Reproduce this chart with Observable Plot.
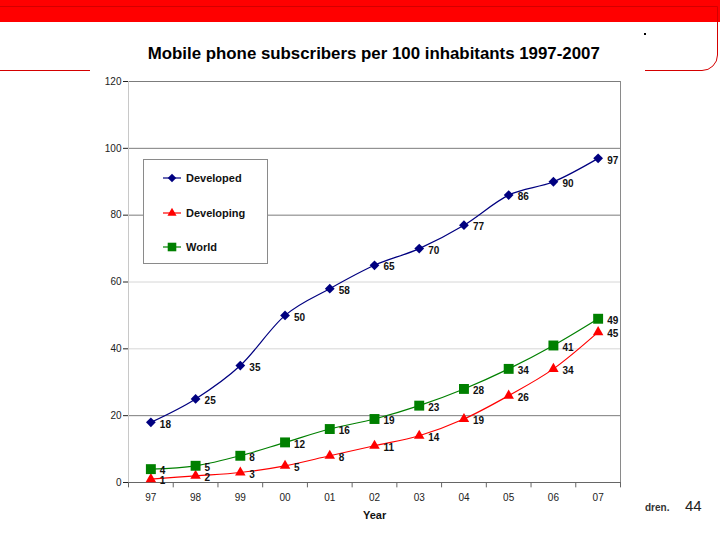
<!DOCTYPE html>
<html>
<head>
<meta charset="utf-8">
<script src="https://cdn.jsdelivr.net/npm/d3@7"></script>
<script src="https://cdn.jsdelivr.net/npm/@observablehq/plot@0.6"></script>
<style>
  html, body { margin: 0; padding: 0; background: #fff; }
  #page { position: relative; width: 720px; height: 540px; overflow: hidden; font-family: "Liberation Sans", Arial, sans-serif; }
  #band { position: absolute; left: 0; top: 0; width: 720px; height: 22px; background: #ff0000; }
  #outline { position: absolute; left: -20px; top: 6px; width: 736px; height: 63px; border: 1.5px solid #d40000; border-radius: 0 0 16px 0; }
  #sheet { position: absolute; left: 90px; top: 28px; width: 555px; height: 502px; background: #fff; }
  #dot { position: absolute; left: 644px; top: 33px; width: 2px; height: 1.5px; background: #000; }
  #title { position: absolute; left: 0; top: 45px; width: 748px; text-align: center; font-weight: bold; font-size: 16px; color: #000; white-space: nowrap; }
  #title span { display: inline-block; transform-origin: center; }
  #chart { position: absolute; left: 0; top: 0; }
  #xlabel { position: absolute; left: 363px; top: 509px; font-weight: bold; font-size: 11px; color: #111; }
  #legend { position: absolute; left: 143px; top: 159px; width: 123px; height: 103px; border: 1px solid #8a8a8a; background: #fff; }
  .item { position: absolute; left: 19px; height: 14px; display: flex; align-items: center; font-weight: bold; font-size: 11px; color: #111; }
  .item svg { margin-right: 4px; }
  #dren { position: absolute; left: 645px; top: 502px; font-size: 10px; font-weight: bold; color: #333; }
  #pnum { position: absolute; left: 685px; top: 497px; font-size: 15px; color: #222; }
</style>
</head>
<body>
<div id="page">
  <div id="band"></div>
  <div id="outline"></div>
  <div id="dren">dren.</div>
  <div id="pnum">44</div>
  <div id="sheet"></div>
  <div id="dot"></div>
  <div id="title"><span>Mobile phone subscribers per 100 inhabitants 1997-2007</span></div>
  <div id="chart"></div>
  <div id="xlabel">Year</div>
  <div id="legend"></div>
</div>
<script>
const years = ["97","98","99","00","01","02","03","04","05","06","07"];
const developed = [18, 25, 35, 50, 58, 65, 70, 77, 86, 90, 97];
const developing = [1, 2, 3, 5, 8, 11, 14, 19, 26, 34, 45];
const world = [4, 5, 8, 12, 16, 19, 23, 28, 34, 41, 49];
const seriesNames = ["Developed", "Developing", "World"];
const yTicks = [0, 20, 40, 60, 80, 100, 120];

const colors = {Developed: "#000080", Developing: "#ff0000", World: "#008000"};
const symbols = {Developed: "diamond2", Developing: "triangle", World: "square"};
const radii = {Developed: 4.4, Developing: 3.9, World: 5.6};

const values = {Developed: developed, Developing: developing, World: world};
const rows = seriesNames.map(s => values[s].map((v, i) => ({i, v, series: s})));
const idx = years.map((_, i) => i);
const boundaries = d3.range(-0.5, years.length, 1);

const marks = [
  Plot.ruleY([40, 60], {y: d => d, stroke: "#d6d6d6", strokeWidth: 1}),
  Plot.ruleY([20, 80, 100, 120], {y: d => d, stroke: "#7c7c7c", strokeWidth: 1}),
  Plot.ruleX([-0.5], {x: d => d, stroke: "#c8c8c8"}),
  Plot.ruleX([years.length - 0.5], {x: d => d, stroke: "#8a8a8a"}),
  Plot.ruleX(boundaries, {x: d => d, y1: 0, y2: -1.6, stroke: "#666"}),
  Plot.ruleY([0], {y: d => d, stroke: "#666"})
];
seriesNames.forEach((s, k) => {
  marks.push(Plot.line(rows[k], {x: "i", y: "v", stroke: colors[s], strokeWidth: 1.2, curve: "cardinal", tension: 0}));
});
seriesNames.forEach((s, k) => {
  marks.push(Plot.dot(rows[k], {x: "i", y: "v", symbol: symbols[s], r: radii[s], fill: colors[s], stroke: "none"}));
  marks.push(Plot.text(rows[k], {x: "i", y: "v", text: d => String(d.v), textAnchor: "start", dx: 9, dy: 2,
    fontSize: 10, fontWeight: "bold", fill: "#111"}));
});

const chart = Plot.plot({
  width: 720, height: 540,
  marginLeft: 128, marginRight: 100, marginTop: 81, marginBottom: 58,
  style: {background: "transparent", fontFamily: "'Liberation Sans', Arial, sans-serif", fontSize: "10px", color: "#222"},
  x: {type: "linear", domain: [-0.5, years.length - 0.5], ticks: idx, tickFormat: i => years[i], tickSize: 0, tickPadding: 11, label: null},
  y: {domain: [0, 120], ticks: yTicks, tickSize: 5, tickPadding: 2, label: null, tickFormat: d => String(d)},
  marks
});
document.getElementById("chart").appendChild(chart);

// legend
const legend = document.getElementById("legend");
const tops = [11, 46, 80];
seriesNames.forEach((s, k) => {
  const item = document.createElement("div");
  item.className = "item";
  item.style.top = tops[k] + "px";
  const svg = d3.create("svg").attr("width", 19).attr("height", 14);
  svg.append("line").attr("x1", 0).attr("x2", 18).attr("y1", 7).attr("y2", 7).attr("stroke", colors[s]).attr("stroke-width", 1.2);
  const symType = {Developed: d3.symbolDiamond2, Developing: d3.symbolTriangle, World: d3.symbolSquare}[s];
  const size = Math.PI * radii[s] * radii[s] * 0.75;
  svg.append("path").attr("transform", "translate(9,7)").attr("d", d3.symbol(symType, size)()).attr("fill", colors[s]);
  item.appendChild(svg.node());
  const t = document.createElement("span");
  t.textContent = s;
  item.appendChild(t);
  legend.appendChild(item);
});

// fit title width to reference
const span = document.querySelector("#title span");
const w = span.getBoundingClientRect().width;
span.style.transform = "scaleX(" + (452 / w) + ")";
</script>
</body>
</html>
